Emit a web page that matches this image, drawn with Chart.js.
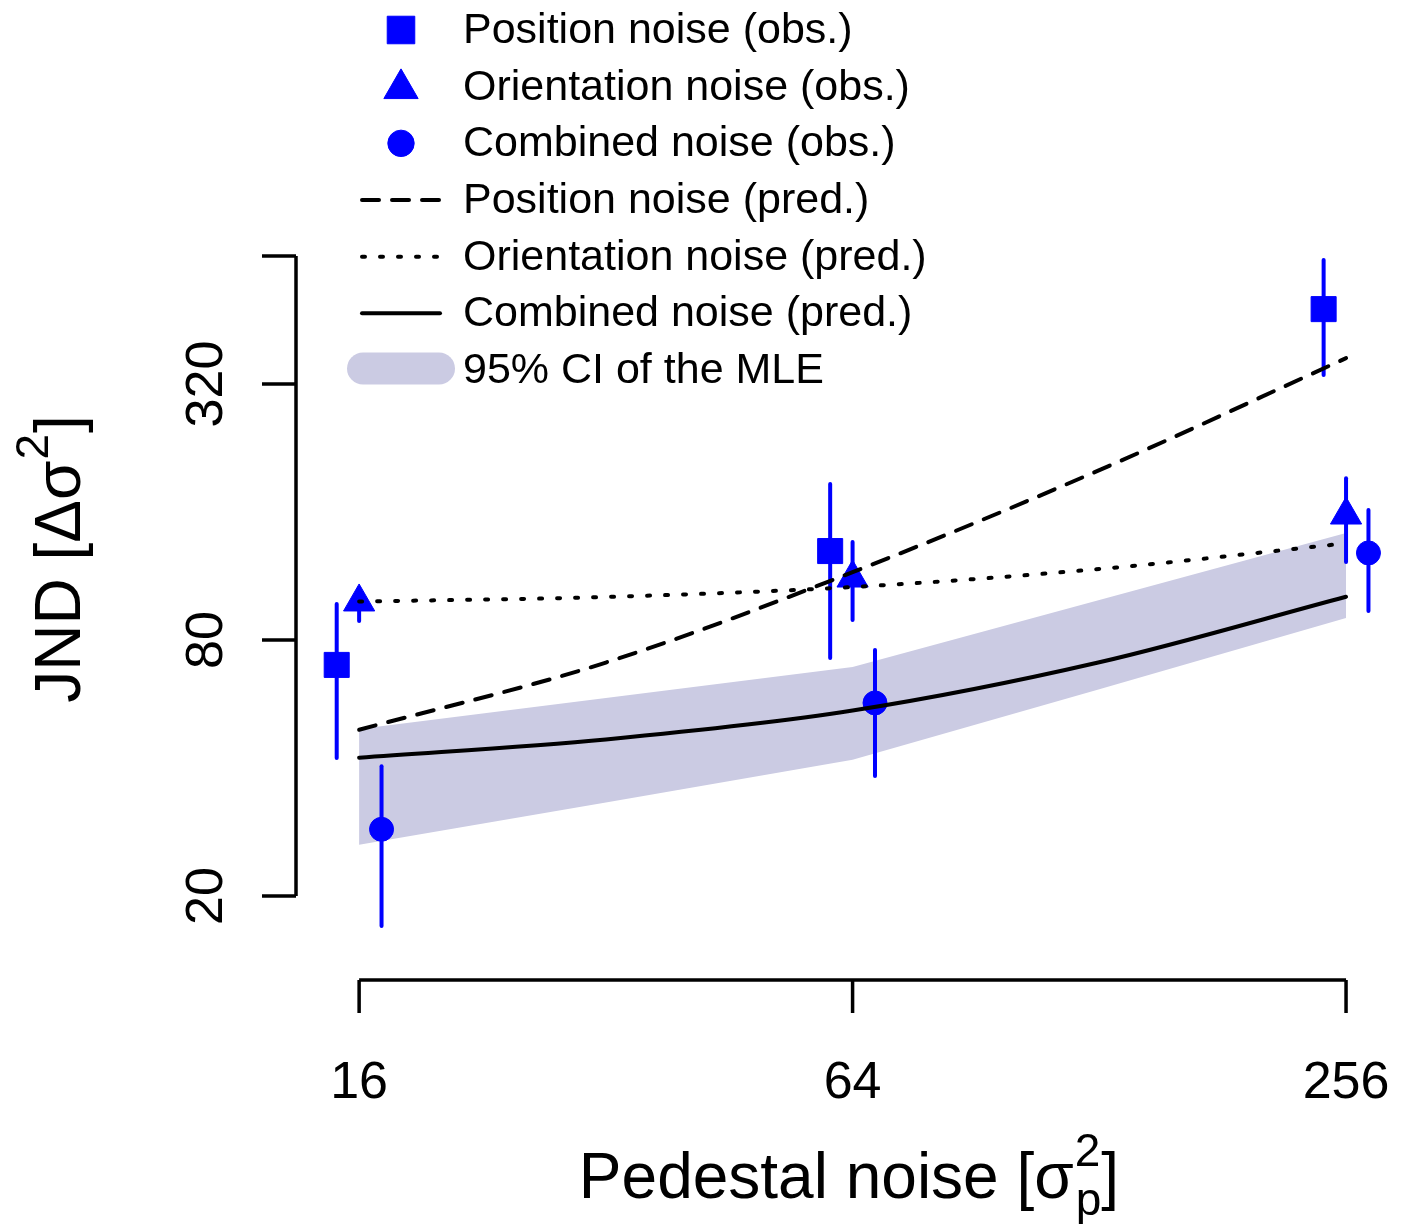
<!DOCTYPE html>
<html>
<head>
<meta charset="utf-8">
<title>JND vs pedestal noise</title>
<script src="https://cdn.jsdelivr.net/npm/chart.js@4.4.1/dist/chart.umd.min.js"></script>
<style>
  html, body { margin: 0; padding: 0; background: #fff; }
</style>
</head>
<body>
<canvas id="grafico" width="1406" height="1224"></canvas>
<script>
// niveis de ruido de pedestal
const pedestal = [16, 64, 256];

// observado (ponto, limite inferior, limite superior)
const posObs = [69.9, 129.5, 480];
const posLo = [42.2, 72.6, 336];
const posHi = [97.2, 186.2, 626];

const oriObs = [98.3, 111.9, 157.4];
const oriLo = [88.7, 89.2, 122];
const oriHi = [106, 136, 192];

const combObs = [28.7, 56.9, 128.2];
const combLo = [17.0, 38.3, 93.6];
const combHi = [40.4, 75.8, 161.8];

// predicoes
const predX = [16, 32, 64, 128, 256];
const posPred = [49.2, 70.8, 115.5, 200.7, 368];
const oriPred = [98.5, 101, 106.6, 117.5, 135];
const combPred = [42.3, 46.7, 54.6, 70.9, 101.1];
const ciUpper = [49.4, 58.4, 69.1, 99.4, 142.8];
const ciLower = [26.4, 33.2, 41.8, 61.3, 90.1];

const xTicks = [16, 64, 256];
const yTicks = [20, 80, 320];
const yAxisTop = 640;

const legendLabels = ['Position noise (obs.)', 'Orientation noise (obs.)', 'Combined noise (obs.)',
  'Position noise (pred.)', 'Orientation noise (pred.)', 'Combined noise (pred.)', '95% CI of the MLE'];

const azul = '#0000ff';
const lavanda = '#cbcbe3';
const fonte = '"Liberation Sans", Arial, sans-serif';
const desloc = 1.065; // afastamento horizontal dos pontos

function pontos(vals, f) {
  return pedestal.map((p, i) => ({ x: p * f, y: vals[i] }));
}
function curva(vals) {
  return predX.map((p, i) => ({ x: p, y: vals[i] }));
}

const marcadores = [
  { estilo: 'rect', raio: 17.7 },
  { estilo: 'triangle', raio: 18 },
  { estilo: 'circle', raio: 12 }
];
const tracos = [[17, 13], [3, 15], []];

function linhaPred(vals, dash) {
  return {
    type: 'line', data: curva(vals), borderColor: '#000', borderWidth: 4,
    borderDash: dash, borderCapStyle: 'round', pointRadius: 0, fill: false,
    cubicInterpolationMode: 'monotone', order: 1
  };
}
function pontosObs(vals, f, m) {
  return {
    type: 'scatter', data: pontos(vals, f), showLine: false,
    pointStyle: m.estilo, pointRadius: m.raio, backgroundColor: azul,
    borderColor: azul, pointBorderWidth: 1, order: 3
  };
}

const barras = [[posLo, posHi, 1 / desloc], [oriLo, oriHi, 1], [combLo, combHi, desloc]];

// texto com sobrescrito e subscrito empilhados (estilo plotmath)
function rotulo(ctx, antes, sup, sub, depois, x, y) {
  ctx.font = '64px ' + fonte;
  const w1 = ctx.measureText(antes).width;
  const w3 = ctx.measureText(depois).width;
  ctx.font = '46px ' + fonte;
  const w2 = Math.max(ctx.measureText(sup).width, sub ? ctx.measureText(sub).width : 0);
  let cx = x - (w1 + w2 + w3) / 2;
  ctx.font = '64px ' + fonte;
  ctx.fillText(antes, cx, y);
  cx += w1;
  ctx.font = '46px ' + fonte;
  ctx.fillText(sup, cx + 1, y - 32);
  if (sub) ctx.fillText(sub, cx + 2, y + 17);
  cx += w2 + 2;
  ctx.font = '64px ' + fonte;
  ctx.fillText(depois, cx, y);
}

const eixos = {
  id: 'eixos',
  afterDatasetDraw(chart, args) {
    if (args.index !== 1) return;
    const ctx = chart.ctx, xs = chart.scales.x, ys = chart.scales.y;
    ctx.save();
    ctx.strokeStyle = azul;
    ctx.lineWidth = 4;
    ctx.lineCap = 'round';
    barras.forEach(([lo, hi, f]) => {
      pedestal.forEach((p, i) => {
        const x = xs.getPixelForValue(p * f);
        ctx.beginPath();
        ctx.moveTo(x, ys.getPixelForValue(lo[i]));
        ctx.lineTo(x, ys.getPixelForValue(hi[i]));
        ctx.stroke();
      });
    });
    ctx.restore();
  },
  afterDraw(chart) {
    const ctx = chart.ctx, xs = chart.scales.x, ys = chart.scales.y, area = chart.chartArea;
    ctx.save();
    ctx.strokeStyle = '#000';
    ctx.fillStyle = '#000';
    ctx.lineWidth = 3.5;

    // eixo y
    const ax = area.left;
    ctx.beginPath();
    ctx.moveTo(ax, ys.getPixelForValue(yTicks[0]));
    ctx.lineTo(ax, ys.getPixelForValue(yAxisTop));
    ctx.stroke();
    yTicks.concat([yAxisTop]).forEach(v => {
      const y = ys.getPixelForValue(v);
      ctx.beginPath(); ctx.moveTo(ax, y); ctx.lineTo(ax - 34, y); ctx.stroke();
    });
    ctx.font = '52px ' + fonte;
    ctx.textAlign = 'center';
    ctx.textBaseline = 'alphabetic';
    yTicks.forEach(v => {
      ctx.save();
      ctx.translate(ax - 74, ys.getPixelForValue(v));
      ctx.rotate(-Math.PI / 2);
      ctx.fillText(String(v), 0, 0);
      ctx.restore();
    });

    // eixo x
    const ay = area.bottom;
    ctx.beginPath();
    ctx.moveTo(xs.getPixelForValue(xTicks[0]), ay);
    ctx.lineTo(xs.getPixelForValue(xTicks[xTicks.length - 1]), ay);
    ctx.stroke();
    xTicks.forEach(v => {
      const x = xs.getPixelForValue(v);
      ctx.beginPath(); ctx.moveTo(x, ay); ctx.lineTo(x, ay + 33); ctx.stroke();
      ctx.fillText(String(v), x, ay + 118);
    });

    // titulos
    ctx.textAlign = 'left';
    rotulo(ctx, 'Pedestal noise [\u03c3', '2', 'p', ']', (area.left + area.right) / 2, 1198);

    ctx.save();
    ctx.translate(80, 560);
    ctx.rotate(-Math.PI / 2);
    rotulo(ctx, 'JND [\u0394\u03c3', '2', null, ']', 0, 0);
    ctx.restore();

    // legenda
    const lx = 401, tx = 463;
    ctx.font = '43px ' + fonte;
    ctx.textBaseline = 'middle';
    legendLabels.forEach((t, i) => {
      const y = 30 + i * 56.67;
      if (i < 3) {
        ctx.fillStyle = azul; ctx.strokeStyle = azul; ctx.lineWidth = 1;
        Chart.helpers.drawPoint(ctx, { pointStyle: marcadores[i].estilo, radius: marcadores[i].raio * 1.1, rotation: 0, borderWidth: 1 }, lx, y + (i === 1 ? 2 : 0));
      } else if (i < 6) {
        ctx.strokeStyle = '#000'; ctx.lineWidth = 4; ctx.lineCap = 'round';
        ctx.setLineDash(tracos[i - 3]);
        ctx.beginPath(); ctx.moveTo(362, y); ctx.lineTo(440, y); ctx.stroke();
        ctx.setLineDash([]);
      } else {
        ctx.strokeStyle = lavanda; ctx.lineWidth = 32; ctx.lineCap = 'round';
        ctx.beginPath(); ctx.moveTo(363, y - 1.5); ctx.lineTo(439, y - 1.5); ctx.stroke();
      }
      ctx.fillStyle = '#000';
      ctx.fillText(t, tx, y + 1);
    });
    ctx.restore();
  }
};

const config = {
  type: 'scatter',
  data: {
    datasets: [
      { type: 'line', data: curva(ciLower), borderWidth: 0, pointRadius: 0, fill: false, order: 6 },
      { type: 'line', data: curva(ciUpper), borderWidth: 0, pointRadius: 0, fill: '-1', backgroundColor: lavanda, tension: 0, order: 5 },
      pontosObs(posObs, 1 / desloc, marcadores[0]),
      pontosObs(oriObs, 1, marcadores[1]),
      pontosObs(combObs, desloc, marcadores[2]),
      linhaPred(posPred, tracos[0]),
      linhaPred(oriPred, tracos[1]),
      linhaPred(combPred, tracos[2])
    ]
  },
  options: {
    responsive: false,
    devicePixelRatio: 1,
    animation: false,
    events: [],
    layout: { autoPadding: false, padding: { left: 296, right: 6, top: 0, bottom: 244 } },
    plugins: { legend: { display: false }, tooltip: { enabled: false } },
    scales: {
      x: { type: 'logarithmic', min: 13.40, max: 297.9, bounds: 'data', display: false },
      y: { type: 'logarithmic', min: 12.69, max: 2560, bounds: 'data', display: false }
    }
  },
  plugins: [eixos]
};

new Chart(document.getElementById('grafico'), config);
</script>
</body>
</html>
